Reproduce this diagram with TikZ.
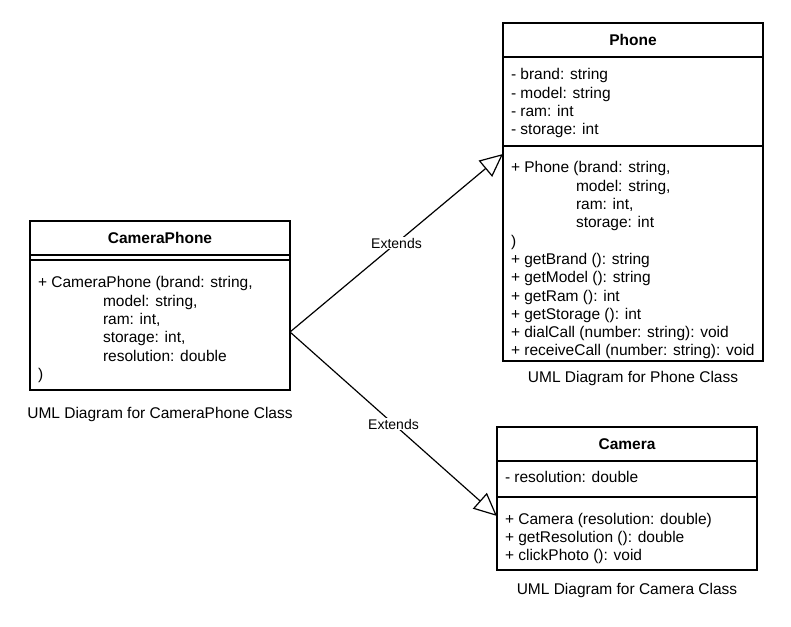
\documentclass[tikz,border=0pt]{standalone}
\usepackage{fontspec}
\setmainfont{Liberation Sans}
\usetikzlibrary{arrows.meta, positioning}
\newcommand{\miembros}[3]{\parbox[c][#1][t]{244pt}{\vspace*{#2}#3}}
\newcommand{\sangria}{\hspace*{65pt}}
\tikzstyle{titulo} = [draw, line width=1.2pt, outer sep=0pt, minimum width=260pt, minimum height=34pt, inner sep=0pt, font=\fontsize{15.5pt}{18.3pt}\selectfont\bfseries, anchor=north]
\tikzstyle{seccion} = [draw, line width=1.2pt, outer sep=0pt, inner xsep=8pt, inner ysep=0pt]
\tikzstyle{leyenda} = [inner sep=0pt]
\tikzstyle{hereda} = [line width=1.2pt, -{Triangle[open, length=23pt, width=21pt]}]
\tikzstyle{etiqueta} = [fill=white, inner sep=1pt, font=\fontsize{14pt}{16pt}\selectfont]

\begin{document}
\begin{tikzpicture}[x=1pt, y=-1pt, font=\fontsize{15.5pt}{18.3pt}\selectfont]
	\useasboundingbox[fill=white] (0,0) rectangle (791,626);
	% CameraPhone
	\node [titulo] (cpt) at (160,221) {CameraPhone};
	\node [seccion, below=0pt of cpt, minimum width=260pt, minimum height=5pt, inner sep=0pt] (cpa) {};
	\node [seccion, below=0pt of cpa] (cpm) {\miembros{130pt}{16.7pt}{%
		+ CameraPhone (brand: string,\\
		\sangria model: string,\\
		\sangria ram: int,\\
		\sangria storage: int,\\
		\sangria resolution: double\\
		)}};
	\node [leyenda, below=17pt of cpm] (cpl) {UML Diagram for CameraPhone Class};
	% Phone
	\node [titulo] (pt) at (633,23) {Phone};
	\node [seccion, below=0pt of pt] (pa) {\miembros{89pt}{11.7pt}{%
		- brand: string\\
		- model: string\\
		- ram: int\\
		- storage: int}};
	\node [seccion, below=0pt of pa] (pm) {\miembros{215pt}{15.7pt}{%
		+ Phone (brand: string,\\
		\sangria model: string,\\
		\sangria ram: int,\\
		\sangria storage: int\\
		)\\
		+ getBrand (): string\\
		+ getModel (): string\\
		+ getRam (): int\\
		+ getStorage (): int\\
		+ dialCall (number: string): void\\
		+ receiveCall (number: string): void}};
	\node [leyenda, below=9.6pt of pm] (pl) {UML Diagram for Phone Class};
	% Camera
	\node [titulo] (ct) at (627,427) {Camera};
	\node [seccion, below=0pt of ct] (ca) {\miembros{36pt}{10.7pt}{%
		- resolution: double}};
	\node [seccion, below=0pt of ca] (cm) {\miembros{73pt}{15.9pt}{%
		+ Camera (resolution: double)\\
		+ getResolution (): double\\
		+ clickPhoto (): void}};
	\node [leyenda, below=13pt of cm] (cl) {UML Diagram for Camera Class};
	% herencia
	\coordinate (origen) at ([yshift=-7pt]cpm.east);
	\coordinate (haciaPhone) at ([yshift=-8pt]pm.north west);
	\coordinate (haciaCamera) at ([yshift=-19pt]cm.north west);
	\draw [hereda] (origen) -- node [etiqueta] {Extends} (haciaPhone);
	\draw [hereda] (origen) -- node [etiqueta] {Extends} (haciaCamera);
\end{tikzpicture}
\end{document}
